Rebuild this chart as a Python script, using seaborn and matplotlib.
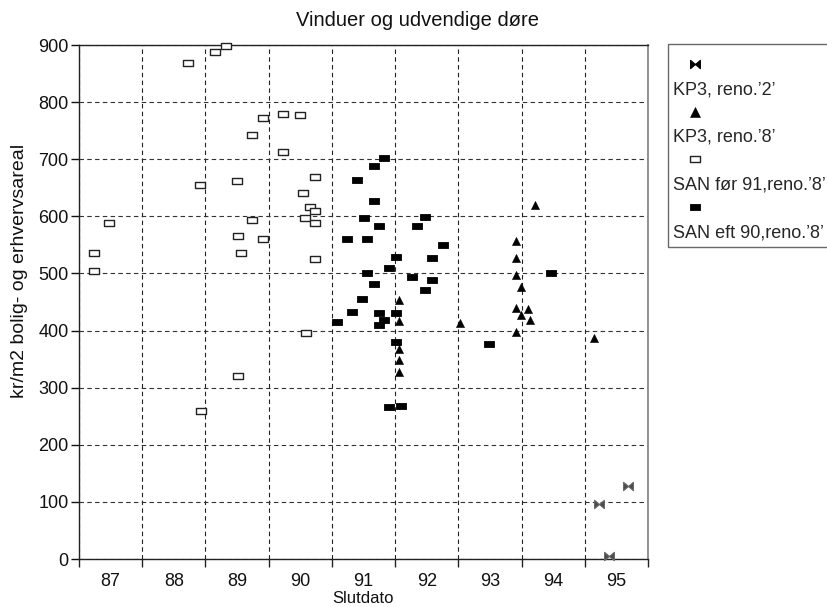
import numpy as np
import pandas as pd
import matplotlib
matplotlib.use("Agg")
import matplotlib.pyplot as plt
import seaborn as sns
from matplotlib.path import Path
from matplotlib.lines import Line2D

# ---------------- data ----------------
title = "Vinduer og udvendige døre"
xlabel = "Slutdato"
ylabel = "kr/m2 bolig- og erhvervsareal"
year_ticks = [87, 88, 89, 90, 91, 92, 93, 94, 95]
y_ticks = [0, 100, 200, 300, 400, 500, 600, 700, 800, 900]
series_names = ["KP3, reno.’2’", "KP3, reno.’8’",
                "SAN før 91,reno.’8’", "SAN eft 90,reno.’8’"]

kp3_2_x = [94.73, 95.19, 94.89]
kp3_2_y = [96, 128, 5]

kp3_8_x = [93.71, 93.42, 93.42, 93.42, 93.49, 91.56, 93.42, 93.60, 93.49,
           93.63, 91.56, 92.52, 93.42, 94.65, 91.56, 91.56, 91.56]
kp3_8_y = [620, 556, 527, 497, 477, 454, 439, 438, 428,
           419, 416, 413, 398, 387, 368, 349, 327]

san_for_x = [86.74, 86.74, 86.97, 88.22, 88.65, 88.83, 88.41, 89.00, 89.23,
             89.41, 89.73, 90.00, 89.73, 90.23, 90.05, 90.16, 90.24, 90.07,
             90.23, 89.23, 89.02, 89.41, 89.06, 90.23, 90.09, 89.02, 88.43]
san_for_y = [505, 535, 588, 869, 887, 899, 654, 662, 742,
             772, 780, 777, 712, 668, 641, 616, 609, 597,
             589, 594, 565, 561, 535, 526, 395, 321, 259]

san_eft_x = [91.33, 91.16, 90.90, 91.16, 91.98, 91.01, 91.24, 91.85, 90.74,
             91.06, 92.25, 91.51, 92.09, 91.41, 91.06, 93.97, 91.77, 92.09,
             91.16, 91.98, 90.98, 90.82, 91.24, 91.51, 91.33, 90.58, 91.24,
             91.51, 92.99, 91.41, 91.59]
san_eft_y = [703, 688, 664, 626, 599, 597, 583, 583, 561,
             561, 550, 529, 527, 509, 501, 501, 494, 488,
             482, 471, 456, 432, 430, 430, 419, 415, 409,
             380, 377, 266, 268]

# ---------------- style ----------------
sns.set_style("white")
plt.rcParams["font.family"] = ["Liberation Sans", "DejaVu Sans"]

rect = Path([(-1, -0.66), (1, -0.66), (1, 0.66), (-1, 0.66), (-1, -0.66)],
            [Path.MOVETO, Path.LINETO, Path.LINETO, Path.LINETO, Path.CLOSEPOLY])
bowtie = Path([(-1, 0.85), (-1, -0.85), (1, 0.85), (1, -0.85), (-1, 0.85)],
              [Path.MOVETO, Path.LINETO, Path.LINETO, Path.LINETO, Path.CLOSEPOLY])

styles = [
    dict(marker=bowtie, s=50, color="#4a4a4a", edgecolor="#666666", linewidth=0.8),
    dict(marker="^", s=34, color="black", edgecolor="black", linewidth=0.4),
    dict(marker=rect, s=58, color="white", edgecolor="#222222", linewidth=1.0),
    dict(marker=rect, s=58, color="black", edgecolor="black", linewidth=0.6),
]
legend_colors = [("black", "black"), ("black", "black"),
                 ("white", "#222222"), ("black", "black")]
data = [(kp3_2_x, kp3_2_y), (kp3_8_x, kp3_8_y),
        (san_for_x, san_for_y), (san_eft_x, san_eft_y)]

fig = plt.figure(figsize=(8.27, 6.07), dpi=100)
ax = fig.add_axes([79 / 827, 1 - 559 / 607, (648 - 79) / 827, (559 - 45) / 607])

draw_order = [2, 3, 1, 0]
for i in draw_order:
    xs, ys = data[i]
    df = pd.DataFrame({"x": xs, "y": ys})
    sns.scatterplot(data=df, x="x", y="y", ax=ax, zorder=3, legend=False,
                    clip_on=False, **styles[i])

ax.set_xlim(86.5, 95.5)
ax.set_ylim(0, 900)
ax.set_xticks(year_ticks)
ax.set_xticklabels([str(v) for v in year_ticks])
ax.set_xticks(np.arange(86.5, 95.6, 1.0), minor=True)
ax.set_yticks(y_ticks)
ax.tick_params(axis="x", which="major", bottom=True, length=0, labelsize=13, pad=10,
               colors="#111111")
ax.tick_params(axis="x", which="minor", bottom=True, length=6, width=1, direction="out",
               color="#222222")
ax.tick_params(axis="y", which="major", left=True, length=6, width=1, direction="out",
               labelsize=13, pad=1.5, colors="#111111")

ax.set_axisbelow(True)
ax.grid(False)
ax.grid(True, axis="x", which="minor", color="#222222", linestyle=(0, (4, 3)), linewidth=0.8)
ax.grid(True, axis="y", which="major", color="#333333", linestyle=(0, (4, 3)), linewidth=0.8)

for side in ["left", "bottom", "top"]:
    ax.spines[side].set_color("#222222")
    ax.spines[side].set_linewidth(1.0)
ax.spines["right"].set_color("#888888")
ax.spines["right"].set_linewidth(1.3)

ax.set_xlabel(xlabel, fontsize=12, color="#111111", labelpad=0.5)
ax.set_ylabel(ylabel, fontsize=14, color="#111111")
ax.yaxis.set_label_coords(-0.09, 0.56)

fig.suptitle(title, x=418 / 827, y=1 - 20 / 607, va="center", fontsize=14.5, color="#111111")

# legend: marker on one row, label on the next
handles, labels = [], []
for i, name in enumerate(series_names):
    st = styles[i]
    fc, ec = legend_colors[i]
    ms = np.sqrt(st["s"]) * (1.25 if i == 1 else 1.0)
    h = Line2D([], [], linestyle="none", marker=st["marker"], markersize=ms,
               markerfacecolor=fc, markeredgecolor=ec,
               markeredgewidth=st["linewidth"])
    handles.append(h)
    labels.append(" ")
    handles.append(Line2D([], [], linestyle="none"))
    labels.append(name)

leg = fig.legend(handles, labels, loc="upper left",
                 bbox_to_anchor=(668 / 827, 1 - 44 / 607), bbox_transform=fig.transFigure,
                 frameon=True, fancybox=False, shadow=False, fontsize=13,
                 title=" ", title_fontsize=1,
                 handlelength=2.4, handletextpad=-2.4, borderpad=0.3,
                 labelspacing=0.38, borderaxespad=0)
leg.get_frame().set_edgecolor("#444444")
leg.get_frame().set_linewidth(1.0)

fig.savefig("out.png", dpi=100)
